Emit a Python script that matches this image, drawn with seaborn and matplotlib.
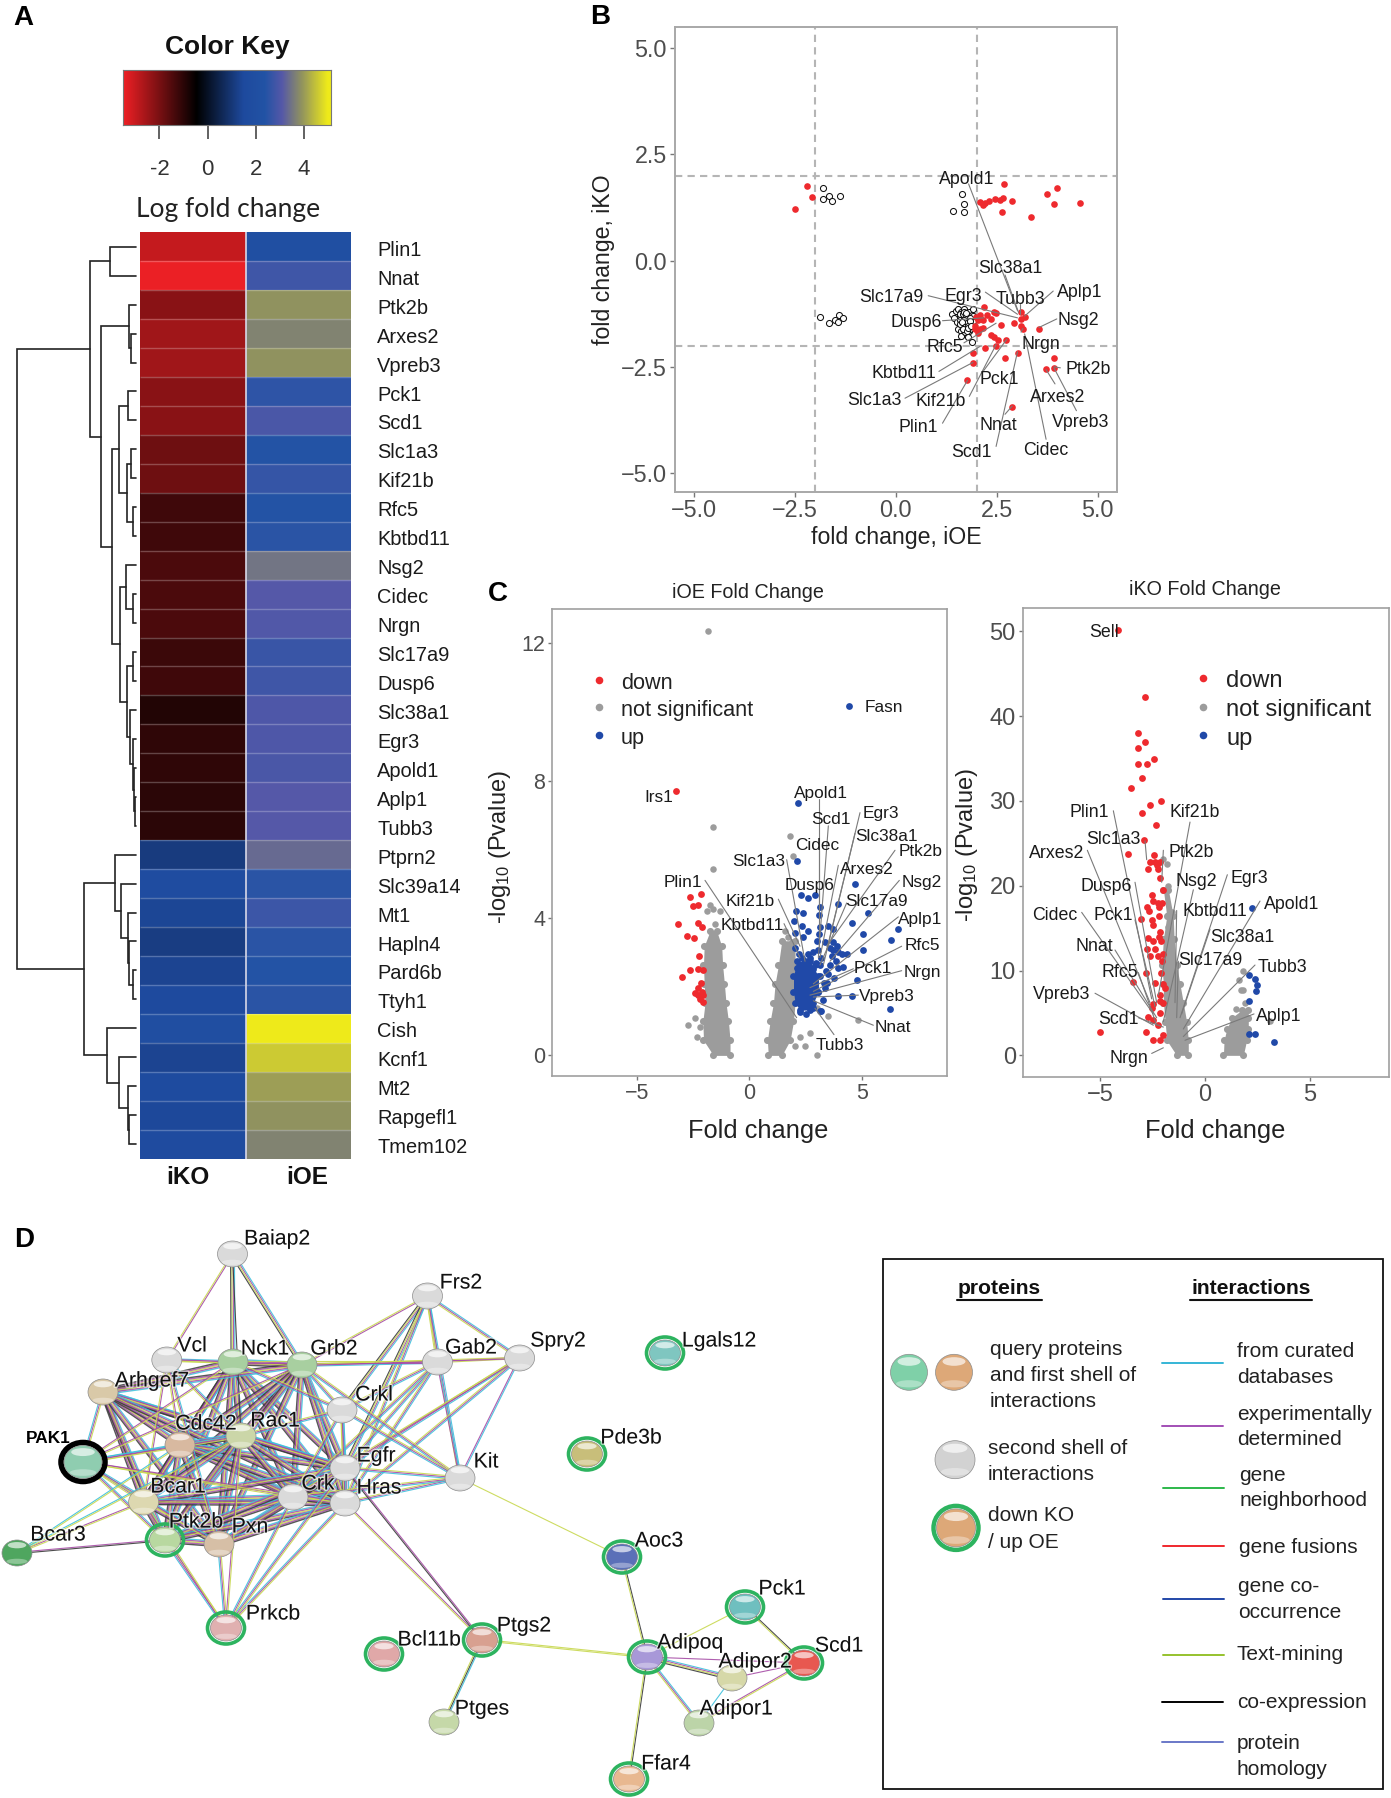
"""
Four panel figure: heatmap with dendrogram, fold change scatter,
two volcano plots and the protein interaction network
"""

import itertools
import numpy as np
import matplotlib
matplotlib.use("Agg")
import matplotlib.pyplot as plt
import seaborn as sns
from matplotlib.colors import LinearSegmentedColormap, Normalize
from matplotlib.patches import Ellipse, Rectangle
import matplotlib.patheffects as pe

W, H = 1391, 1798

sns.set_theme(style="white")
plt.rcParams['font.family'] = ["Liberation Sans", "DejaVu Sans"]
plt.rcParams['mathtext.default'] = "regular"

# %% panel A values
genes = ["Plin1", "Nnat", "Ptk2b", "Arxes2", "Vpreb3", "Pck1", "Scd1", "Slc1a3", "Kif21b", "Rfc5", "Kbtbd11",
         "Nsg2", "Cidec", "Nrgn", "Slc17a9", "Dusp6", "Slc38a1", "Egr3", "Apold1", "Aplp1", "Tubb3", "Ptprn2",
         "Slc39a14", "Mt1", "Hapln4", "Pard6b", "Ttyh1", "Cish", "Kcnf1", "Mt2", "Rapgefl1", "Tmem102"]
heatKO = [-2.95, -3.45, -2.2, -2.5, -2.5, -2.2, -2.2, -1.85, -1.85, -1.25, -1.25,
          -1.4, -1.4, -1.4, -1.2, -1.25, -0.88, -1.05, -1.05, -1.0, -1.0, 1.1,
          1.75, 1.4, 1.15, 1.35, 1.5, 1.9, 1.35, 1.6, 1.45, 1.65]
heatOE = [2.0, 2.8, 3.9, 3.7, 3.9, 2.55, 2.95, 2.4, 2.65, 2.4, 2.5,
          3.5, 3.1, 3.05, 2.7, 2.8, 3.0, 3.0, 2.95, 3.1, 3.1, 3.35,
          2.5, 2.75, 2.5, 2.4, 2.5, 5.0, 4.6, 4.05, 3.9, 3.7]
keyTicks = [-2, 0, 2, 4]
keyStops = [-3.5, -0.45, 1.5, 2.4, 3.1, 3.9, 5.0, 5.125]
keyColours = ["#EE2025", "#000000", "#1E4A9E", "#2253A5", "#5558A8", "#8F9160", "#EEEA1A", "#EEEA1A"]

# dendrogram as nested [x of the merge, child, child], ints are heatmap rows
geneTree = [17,
            [90, [110, 0, 1],
             [101, [129, 2, [131, 3, 4]],
              [112, [119, [128, 5, 6], [127, [131, 7, 8], [133, 9, 10]]],
               [120, [126, 11, [133, 12, 13]],
                [127, [133, 14, 15], [130, 16, [133, 17, [134, 18, [134.5, 19, 20]]]]]]]]],
            [84, [115, 21, [121, 22, [128, 23, [129, 24, [133, 25, 26]]]]],
             [107, 27, [119, 28, [128, 29, [129, 30, 31]]]]]]

# %% panel B values
redX = [-2.48, -2.20, -2.07, 2.67, 2.08, 2.17, 2.21, 2.32, 2.45, 2.59, 2.65, 2.64, 2.88, 3.35, 3.74, 3.98, 3.91, 4.55,
        2.19, 2.08, 1.99, 2.12, 2.26, 2.43, 2.48, 2.35, 1.95, 2.04, 2.17, 2.61, 2.92, 3.10, 3.19, 3.10, 3.14, 3.10,
        3.54, 1.95, 2.08, 2.17, 2.04, 2.35, 2.43, 2.74, 2.52, 2.48, 2.21, 1.90, 1.90, 2.70, 3.03, 3.91, 3.72, 3.91,
        1.77, 2.88]
redY = [1.22, 1.76, 1.49, 1.81, 1.38, 1.30, 1.36, 1.40, 1.45, 1.42, 1.47, 1.15, 1.40, 1.03, 1.56, 1.70, 1.34, 1.36,
        -1.10, -1.29, -1.33, -1.37, -1.29, -1.20, -1.24, -1.37, -1.54, -1.41, -1.41, -1.52, -1.48, -1.20, -1.33, -1.37,
        -1.61, -1.54, -1.60, -1.62, -1.62, -1.58, -1.71, -1.75, -1.79, -1.86, -1.87, -2.00, -2.06, -2.17, -2.40, -2.29,
        -2.17, -2.29, -2.55, -2.52, -2.82, -3.45]
openX = [-1.81, -1.66, -1.81, -1.57, -1.37, 1.64, 1.68, 1.42, 1.68, -1.88, -1.64, -1.49, -1.40, -1.30, -1.42,
         1.40, 1.45, 1.48, 1.52, 1.55, 1.58, 1.60, 1.62, 1.65, 1.68, 1.70, 1.72, 1.75, 1.78, 1.80, 1.82, 1.85, 1.88,
         1.90, 1.92, 1.55, 1.62, 1.70, 1.75, 1.82, 1.60, 1.68, 1.78, 1.85, 1.90, 1.62, 1.72, 1.80, 1.58, 1.88,
         1.66, 1.74, 1.83, 1.70, 1.77, 1.64, 1.72, 1.80, 1.67, 1.76, 1.84, 1.69, 1.79, 1.73, 1.87]
openY = [1.70, 1.53, 1.46, 1.39, 1.53, 1.57, 1.34, 1.17, 1.15, -1.33, -1.47, -1.39, -1.27, -1.34, -1.45,
         -1.25, -1.35, -1.18, -1.45, -1.15, -1.30, -1.40, -1.22, -1.55, -1.30, -1.15, -1.45, -1.28, -1.60, -1.38,
         -1.20, -1.50, -1.28, -1.42, -1.15, -1.62, -1.65, -1.72, -1.55, -1.65, -1.50, -1.38, -1.45, -1.60, -1.30,
         -1.78, -1.68, -1.80, -1.25, -1.92,
         -1.26, -1.33, -1.36, -1.40, -1.48, -1.45, -1.56, -1.53, -1.62, -1.66, -1.42, -1.22, -1.58, -1.24, -1.55]

# %% panel C values, iOE
oeDownX = [-3.26, -2.15, -2.64, -2.52, -2.27, -3.19, -2.27, -2.09, -2.76, -2.46, -2.25, -2.64, -2.27, -2.07, -3.0,
           -2.16, -2.27, -2.12, -2.41, -2.27, -2.07, -2.19, -2.07]
oeDownY = [7.70, 4.71, 4.6, 4.35, 4.38, 3.84, 3.87, 3.75, 3.48, 3.43, 2.9, 2.49, 2.52, 2.49, 2.28,
           2.1, 1.97, 1.86, 1.81, 1.75, 1.75, 1.64, 1.56]
oeUpX = [4.44, 2.18, 2.1, 4.7, 2.3, 2.62, 2.92, 2.06, 2.37, 3.14, 3.11, 3.96, 5.29, 1.99, 2.33, 3.14, 4.55, 3.73, 3.51,
         2.62, 2.03, 2.4, 6.59, 6.30, 5.07, 5.04, 2.99, 3.59, 3.73, 3.88, 3.73, 3.96, 4.1, 4.33, 3.07, 2.84, 2.62, 2.33,
         2.03, 4.18, 3.93, 3.59, 3.14, 4.77, 3.78, 3.36, 3.93, 4.55, 6.25, 3.14, 2.84, 3.51, 3.14, 2.84,
         2.2, 2.45, 2.7, 2.95, 3.2, 3.4, 3.3, 3.05, 2.75, 2.5, 2.25, 3.25, 3.45, 3.65, 3.85, 3.35, 3.1, 2.9, 2.1, 3.2]
oeUpY = [10.19, 7.34, 5.67, 5.0, 4.66, 4.58, 4.66, 4.22, 4.16, 4.33, 4.08, 4.41, 4.14, 3.92, 3.78, 3.75, 3.87, 3.67, 3.78,
         3.62, 3.56, 3.45, 3.69, 3.36, 3.54, 3.07, 3.34, 3.12, 3.07, 3.18, 3.29, 3.01, 2.96, 2.94, 3.07, 3.01, 2.96, 2.85,
         3.12, 2.58, 2.54, 2.63, 2.63, 2.19, 2.25, 1.97, 1.73, 1.72, 1.35, 1.29, 1.37, 2.36, 2.3, 2.52,
         2.95, 2.75, 2.85, 2.7, 2.85, 2.45, 2.1, 1.85, 1.5, 1.2, 1.25, 1.62, 2.12, 2.9, 2.75, 3.3, 3.55, 2.62, 2.55, 1.3]
oeGreyX = [-1.82, -1.63, -1.63, 1.81, 1.96, -1.75, -1.3, -1.9, -1.6, -1.53, -2.71, -2.41, -2.34, -2.19, 4.84, 3.51,
           2.99, 2.7, 2.47, 2.99, 2.03, 2.25, 1.59, 1.88, 1.73]
oeGreyY = [12.36, 6.66, 5.42, 6.4, 5.81, 4.38, 4.22, 4.22, 4.27, 3.84, 0.88, 1.1, 0.55, 0.82, 1.04, 1.15,
           1.37, 0.66, 0.27, 0.0, 0.27, 0.55, 3.62, 3.29, 3.45]
# outline of the solid part of the clouds, -log10 level with left and right x
oeLeftLevel = [3.62, 3.18, 2.63, 2.08, 1.53, 0.99, 0.44, 0.0]
oeLeftFrom = [-1.75, -2.01, -2.04, -2.01, -1.97, -2.07, -2.04, -1.6]
oeLeftTo = [-1.45, -1.23, -1.19, -1.11, -1.04, -0.93, -0.86, -0.86]
oeRightLevel = [3.34, 2.63, 2.08, 1.53, 0.99, 0.44, 0.0]
oeRightFrom = [1.44, 1.29, 1.14, 1.07, 0.92, 0.8, 0.84]
oeRightTo = [2.03, 2.03, 2.03, 2.03, 1.96, 1.81, 1.44]
oeUpLevel = [2.74, 2.30, 1.86, 1.53, 1.32]
oeUpFrom = [2.10, 1.96, 1.96, 2.03, 2.25]
oeUpTo = [2.70, 3.07, 3.07, 2.84, 2.70]

# %% panel C values, iKO
koDownX = [-4.15, -2.89, -3.19, -2.87, -3.19, -2.42, -2.78, -3.22, -3.03, -3.54, -2.12, -2.63, -3.03, -2.34, -2.9, -3.7,
           -2.42, -2.63, -2.39, -2.15, -2.31, -2.71, -2.23, -2.15, -1.99, -2.55, -2.5, -2.79, -2.66, -2.23, -2.07, -2.19,
           -3.08, -2.19, -2.55, -2.5, -2.15, -2.19, -2.74, -2.5, -2.12, -2.79, -2.39, -2.63, -2.23, -1.99, -2.07, -2.82,
           -2.12, -3.46, -2.39, -1.99, -1.91, -2.15, -2.15, -1.99, -2.47, -2.55, -2.15, -2.71, -2.47, -2.23, -2.82, -5.02,
           -2.47, -2.15, -1.99]
koDownY = [50.2, 42.2, 38, 37, 36.2, 34.9, 34.4, 34.3, 32.7, 31.5, 30, 29.5, 28.6, 27.2, 25.4, 23.7,
           23.6, 22.8, 22.8, 22.8, 22.4, 22, 22, 20.9, 19.5, 18.9, 18.2, 17.5, 17, 18, 18, 17.5,
           16.1, 16.4, 16, 15.4, 14.6, 14, 13.8, 13.5, 13.5, 12.5, 12.5, 11.7, 11.7, 11.9, 11.1, 9.76,
           9.67, 8.65, 8.56, 8.43, 7.9, 7.1, 6.43, 6.2, 6, 5.55, 5, 4.57, 4.2, 3.55, 2.8, 2.8,
           1.77, 1.77, 2.44]
koUpX = [2.23, 2.12, 2.39, 2.47, 2.44, 2.12, 2.11, 2.39, 3.32]
koUpY = [17.35, 9.45, 9, 8.34, 7.63, 6.43, 2.57, 2.57, 1.55]
koGreyX = [1.83, 1.71, 1.83, 1.48, 1.91, 1.64, 3.11, -1.83, -1.99, -1.75, -1.91, -1.59, -1.75, -1.8, -1.75, -1.67]
koGreyY = [9.98, 7.76, 7.76, 5.41, 6.21, 8.87, 4.08, 22.6, 23.1, 20, 19.5, 16.9, 16.6, 14, 15.1, 15.75]
koLeftLevel = [19.5, 16.4, 13.75, 10.65, 8.43, 6.21, 3.99, 1.77, 0.0]
koLeftFrom = [-1.99, -1.83, -1.99, -2.07, -1.99, -1.99, -1.91, -1.83, -1.36]
koLeftTo = [-1.75, -1.52, -1.48, -1.36, -1.2, -1.04, -0.88, -0.8, -0.8]
koRightLevel = [5.32, 4.44, 3.1, 1.77, 0.0]
koRightFrom = [1.75, 1.28, 1.04, 0.91, 0.88]
koRightTo = [2.07, 2.07, 2.07, 1.99, 1.83]

# %% panel D values
nodeNames = ["Baiap2", "Frs2", "Vcl", "Nck1", "Grb2", "Gab2", "Spry2", "Arhgef7", "Crkl", "Cdc42", "Rac1", "PAK1",
             "Egfr", "Kit", "Crk", "Hras", "Bcar1", "Ptk2b", "Pxn", "Bcar3", "Prkcb", "Lgals12", "Pde3b", "Aoc3",
             "Ptgs2", "Bcl11b", "Ptges", "Adipoq", "Pck1", "Scd1", "Adipor2", "Adipor1", "Ffar4"]
nodeX = [232.5, 427.5, 166.8, 233, 302, 437.5, 519.6, 103, 342, 180, 241, 83,
         345, 460, 293, 345, 143.6, 165, 219, 17, 226, 665, 587, 622,
         482, 384, 444, 647, 745, 804, 732, 699, 629]
nodeY = [1254, 1296, 1360, 1362, 1365, 1362, 1358, 1392, 1410, 1445, 1436, 1462,
         1468, 1478, 1497, 1503, 1502, 1540, 1544, 1553, 1628, 1353, 1454, 1557,
         1640, 1654, 1722, 1657, 1607, 1663, 1678, 1723, 1779]
nodeColours = ["#DADADA", "#DADADA", "#DADADA", "#A8CFA0", "#A8CFA0", "#DADADA", "#DADADA", "#D9C9A8", "#DADADA",
               "#D8B9A0", "#CBD6A8", "#8FCDB0", "#DADADA", "#DADADA", "#DADADA", "#DADADA", "#DDD8B0", "#B8D8A0",
               "#D6BFA6", "#4FA65F", "#E0B0B0", "#7FC6C0", "#C8BE7A", "#5B70B8", "#D8A090", "#E0A8A8", "#C5D8A8",
               "#A898D8", "#6FBFBF", "#E85850", "#D6D8A8", "#BCD4A8", "#E8B890"]
ringedNodes = ["Ptk2b", "Prkcb", "Lgals12", "Pde3b", "Aoc3", "Ptgs2", "Bcl11b", "Adipoq", "Pck1", "Scd1", "Ffar4"]
labelX = [277, 461, 192, 265, 334, 471, 558, 152, 374, 206, 275, 48,
          376, 486, 318, 379, 178, 196, 250, 58, 273, 719, 631, 659,
          524, 429, 482, 690, 782, 839, 755, 736, 666]
labelY = [1237, 1281, 1344, 1347, 1347, 1346, 1339, 1379, 1393, 1422, 1419, 1436,
          1454, 1460, 1482, 1486, 1485, 1520, 1525, 1533, 1612, 1339, 1436, 1539,
          1624, 1638, 1707, 1641, 1587, 1644, 1660, 1707, 1762]
coreNodes = ["Nck1", "Grb2", "Arhgef7", "Cdc42", "Rac1", "Bcar1", "Ptk2b", "Pxn", "Crk", "Egfr", "Hras"]
extraEdges = ["Baiap2 Nck1 cmyk", "Baiap2 Grb2 cmyk", "Baiap2 Vcl my", "Baiap2 Rac1 k",
              "Vcl Nck1 cmy", "Vcl Grb2 my", "Vcl Rac1 cmy", "Vcl Cdc42 my", "Vcl Bcar1 my", "Vcl Pxn cmy",
              "Frs2 Grb2 my", "Frs2 Gab2 cmy", "Frs2 Spry2 cmy", "Frs2 Crkl cmyk", "Frs2 Egfr cmyk",
              "Frs2 Hras cmy", "Frs2 Kit cmy",
              "Gab2 Spry2 my", "Gab2 Grb2 cmy", "Gab2 Nck1 my", "Gab2 Kit cm", "Gab2 Egfr cmy", "Gab2 Hras cmy",
              "Gab2 Crk cmy", "Gab2 Crkl cmy", "Spry2 Grb2 my", "Spry2 Kit cm", "Spry2 Egfr cmy", "Spry2 Hras cmy",
              "Spry2 Crk my", "Kit Egfr cmy", "Kit Hras cmy", "Kit Crk cmy", "Kit Grb2 cmy", "Kit Crkl cmy",
              "Crkl Nck1 cmy", "Crkl Grb2 cmy", "Crkl Egfr cmy", "Crkl Hras cmy", "Crkl Crk cmy", "Crkl Rac1 cmy",
              "PAK1 Arhgef7 cmy", "PAK1 Cdc42 cmy", "PAK1 Rac1 cmy", "PAK1 Bcar1 cmy", "PAK1 Ptk2b cmy",
              "PAK1 Pxn cmy", "PAK1 Nck1 my", "PAK1 Grb2 my", "PAK1 Crk my", "PAK1 Hras my",
              "Bcar3 Ptk2b mk", "Bcar3 Bcar1 my", "Bcar3 Cdc42 cy", "Bcar3 Rac1 cy",
              "Prkcb Ptk2b cmy", "Prkcb Pxn cmy", "Prkcb Bcar1 my", "Prkcb Hras cmy", "Prkcb Egfr cmy",
              "Prkcb Crk cmy", "Prkcb Rac1 my", "Hras Ptgs2 my", "Egfr Ptgs2 mk", "Kit Aoc3 y",
              "Ptgs2 Adipoq yy", "Ptgs2 Ptges cky", "Aoc3 Adipoq ky", "Adipoq Pck1 y", "Adipoq Adipor2 cmyk",
              "Adipoq Adipor1 cmy", "Adipoq Ffar4 ky", "Adipor2 Adipor1 c", "Adipor2 Scd1 m", "Adipor1 Scd1 my",
              "Pck1 Scd1 ky", "Adipoq Scd1 m"]
edgeColours = {"c": "#3CC0DC", "m": "#A64CA6", "y": "#C8D850", "k": "#3A3A3A"}

proteinLegendText = ["query proteins", "and first shell of", "interactions", "second shell of", "interactions",
                     "down KO", "/ up OE"]
interactionNames = ["from curated", "databases", "experimentally", "determined", "gene", "neighborhood", "gene fusions",
                    "gene co-", "occurrence", "Text-mining", "co-expression", "protein", "homology"]
interactionColours = ["#35B5D6", "#A24FB5", "#2DB84B", "#F0282D", "#2347A8", "#96C22D", "#000000", "#6A78C8"]

# %% label tables in coordinates of the crops they were read from
# name, centre x, centre y, then the leader line start and end
bLabels = [("Apold1", 1083, 497, 1088, 515, 1225, 870), ("Slc38a1", 1204, 746, 1190, 770, 1228, 875),
           ("Slc17a9", 873, 828, 975, 828, 1225, 890), ("Egr3", 1072, 825, 1135, 818, 1225, 880),
           ("Tubb3", 1233, 833, 1233, 852, 1233, 880), ("Aplp1", 1398, 812, 1325, 815, 1245, 885),
           ("Nsg2", 1395, 893, 1335, 893, 1285, 917), ("Dusp6", 940, 898, 1015, 898, 1130, 890),
           ("Rfc5", 1022, 968, 1075, 960, 1165, 905), ("Nrgn", 1290, 960, 1235, 930, 1240, 920),
           ("Ptk2b", 1422, 1030, 1345, 1030, 1327, 1027), ("Kbtbd11", 908, 1040, 1005, 1040, 1120, 970),
           ("Pck1", 1175, 1057, 1125, 1045, 1195, 950), ("Arxes2", 1337, 1107, 1330, 1075, 1305, 1035),
           ("Slc1a3", 824, 1117, 910, 1115, 1100, 1015), ("Kif21b", 1010, 1118, 1090, 1110, 1165, 965),
           ("Vpreb3", 1402, 1178, 1390, 1150, 1327, 1030), ("Plin1", 946, 1190, 1015, 1185, 1085, 1065),
           ("Nnat", 1170, 1185, 1190, 1160, 1210, 1137), ("Scd1", 1097, 1262, 1165, 1250, 1225, 985),
           ("Cidec", 1305, 1257, 1305, 1230, 1245, 935)]
oeLabels = [("Fasn", 1212, 360), ("Irs1", 537, 600),
            ("Apold1", 1022, 590, 1018, 610, 1018, 1000), ("Scd1", 1052, 658, 1045, 680, 1015, 1030),
            ("Egr3", 1203, 643, 1140, 645, 1030, 1050), ("Slc38a1", 1218, 702, 1125, 700, 1040, 1010),
            ("Cidec", 1012, 727, 1018, 745, 1018, 900), ("Ptk2b", 1322, 742, 1245, 745, 1040, 1000),
            ("Slc1a3", 835, 770, 920, 770, 975, 1040), ("Arxes2", 1160, 790, 1075, 785, 1020, 1030),
            ("Plin1", 610, 826, 675, 825, 950, 1190), ("Nsg2", 1325, 826, 1258, 825, 1050, 1040),
            ("Dusp6", 990, 833), ("Kif21b", 812, 875, 895, 875, 960, 1000),
            ("Slc17a9", 1190, 875, 1100, 885, 1020, 1050), ("Kbtbd11", 818, 940, 912, 940, 960, 1030),
            ("Aplp1", 1320, 923, 1255, 922, 1000, 1100), ("Rfc5", 1327, 992, 1265, 1000, 1000, 1120),
            ("Pck1", 1178, 1053, 1120, 1060, 990, 1110), ("Nrgn", 1328, 1065, 1265, 1065, 990, 1130),
            ("Vpreb3", 1220, 1128, 1135, 1130, 1000, 1135), ("Nnat", 1238, 1212, 1180, 1210, 1000, 1145),
            ("Tubb3", 1080, 1258, 1062, 1235, 1005, 1165)]
koLabels = [("Sell", 463, 160), ("Plin1", 418, 640, 490, 640, 605, 1140), ("Kif21b", 733, 640, 720, 670, 625, 1130),
            ("Slc1a3", 490, 710, 585, 720, 590, 770), ("Arxes2", 320, 747, 412, 745, 600, 1150),
            ("Ptk2b", 725, 746, 640, 745, 635, 830), ("Dusp6", 468, 835, 555, 830, 620, 1150),
            ("Nsg2", 738, 823, 730, 850, 640, 1200), ("Egr3", 898, 815, 832, 810, 690, 1190),
            ("Apold1", 1025, 883, 930, 880, 700, 1220), ("Kbtbd11", 795, 903, 680, 905, 675, 1150),
            ("Cidec", 315, 912, 395, 910, 610, 1180), ("Pck1", 490, 912, 555, 930, 615, 1160),
            ("Slc38a1", 877, 972, 780, 955, 695, 1180), ("Nnat", 432, 996, 495, 1010, 620, 1190),
            ("Slc17a9", 780, 1033, 685, 1040, 680, 1190), ("Tubb3", 998, 1050, 915, 1050, 700, 1240),
            ("Rfc5", 510, 1065, 565, 1070, 620, 1210), ("Vpreb3", 336, 1122, 435, 1125, 610, 1210),
            ("Scd1", 505, 1190, 565, 1190, 640, 1215), ("Aplp1", 987, 1182, 912, 1180, 705, 1250),
            ("Nrgn", 537, 1292, 605, 1285, 640, 1270)]

RED, GREY, BLUE = "#EE2A2E", "#9C9C9C", "#2049A8"

fig = plt.figure(figsize=((W + 0.01) / 100, (H + 0.01) / 100), dpi=100)


def pixelAxes(left, top, right, bottom):
    return fig.add_axes([left / W, 1 - bottom / H, (right - left) / W, (bottom - top) / H])


# overlay in figure pixels for labels, leaders, dendrogram and network
ov = fig.add_axes([0, 0, 1, 1], zorder=5)
ov.set_xlim(0, W)
ov.set_ylim(H, 0)
ov.axis("off")
ov.patch.set_alpha(0)

for letter, lx, ly in [("A", 23, 16), ("B", 600, 15), ("C", 498, 592), ("D", 24, 1238)]:
    ov.text(lx, ly, letter, fontsize=20, fontweight="bold", ha="center", va="center", color="black")


# %% panel A
def drawHeatmap():
    top, bottom = 232.3, 1158.6
    cmap = LinearSegmentedColormap.from_list(
        "key", [((s - keyStops[0]) / (keyStops[-1] - keyStops[0]), c) for s, c in zip(keyStops, keyColours)], N=512)
    norm = Normalize(keyStops[0], keyStops[-1])

    # colour key
    keyAx = pixelAxes(123.3, 70, 331, 125.5)
    keyAx.imshow(np.linspace(keyStops[0], keyStops[-1], 400)[None, :], cmap=cmap, norm=norm, aspect="auto",
                 extent=(keyStops[0], keyStops[-1], 0, 1))
    keyAx.set_yticks([])
    keyAx.set_xticks(keyTicks)
    keyAx.set_xticklabels([str(t) for t in keyTicks], fontsize=16, color="#333333")
    keyAx.tick_params(axis="x", length=10, width=1.3, color="#555555", pad=14, bottom=True)
    for s in keyAx.spines.values():
        s.set_color("#777777")
        s.set_linewidth(0.8)
    ov.text(227, 45, "Color Key", fontsize=19, fontweight="bold", ha="center", va="center", color="#111111")
    ov.text(228, 207, "Log fold change", fontsize=19, family="Lato", ha="center", va="center", color="#222222")

    # heatmap cells
    hmAx = pixelAxes(140, top, 351, bottom)
    sns.heatmap(np.column_stack([heatKO, heatOE]), ax=hmAx, cmap=cmap, norm=norm, cbar=False,
                xticklabels=False, yticklabels=False)
    hmAx.hlines(range(1, len(genes)), 0, 2, color="white", alpha=0.25, lw=1)
    hmAx.vlines(1, 0, len(genes), color="#D8D8E8", lw=1.2)

    rowH = (bottom - top) / len(genes)
    rowY = [top + rowH * (i + 0.5) for i in range(len(genes))]
    for name, y in zip(genes, rowY):
        ov.text(377, y + 1.5, name, fontsize=14.4, ha="left", va="center", color="#1a1a1a")
    ov.text(188, 1175, "iKO", fontsize=17.5, fontweight="bold", ha="center", va="center", color="#111111")
    ov.text(307, 1175, "iOE", fontsize=17.5, fontweight="bold", ha="center", va="center", color="#111111")

    # dendrogram, walk the nested merges
    def walk(node):
        if not isinstance(node, list):
            return 136, rowY[node]
        x, a, b = node
        xa, ya = walk(a)
        xb, yb = walk(b)
        ov.plot([xa, x, x, xb], [ya, ya, yb, yb], color="#222222", lw=1.2, solid_joinstyle="miter")
        return x, (ya + yb) / 2

    walk(geneTree)


drawHeatmap()


def leaders(labels, x0, y0, fx, fy, size):
    for row in labels:
        name, cx, cy = row[:3]
        if len(row) > 3:
            ov.plot([x0 + row[3] / fx, x0 + row[5] / fx], [y0 + row[4] / fy, y0 + row[6] / fy],
                    color="#7a7a7a", lw=0.8, zorder=3)
        ov.text(x0 + cx / fx, y0 + cy / fy, name, fontsize=size, ha="center", va="center", color="#1a1a1a", zorder=4)


def greySpines(ax, colour="#A8A8A8", width=1.4):
    for s in ax.spines.values():
        s.set_visible(True)
        s.set_color(colour)
        s.set_linewidth(width)


# %% panel B
bAx = pixelAxes(674.6, 26.8, 1116.8, 491.8)
bAx.axvline(-2, color="#B5B5B5", lw=1.5, ls=(0, (3.5, 2.5)))
bAx.axvline(2, color="#B5B5B5", lw=1.5, ls=(0, (3.5, 2.5)))
bAx.axhline(2, color="#B5B5B5", lw=1.5, ls=(0, (3.5, 2.5)))
bAx.axhline(-2, color="#B5B5B5", lw=1.5, ls=(0, (3.5, 2.5)))
sns.scatterplot(x=openX, y=openY, ax=bAx, s=19, facecolor="white", edgecolor="#111111", linewidth=0.75, zorder=3)
sns.scatterplot(x=redX, y=redY, ax=bAx, s=23, color=RED, linewidth=0, zorder=4)
bAx.set_xlim(-5.47, 5.47)
bAx.set_ylim(-5.44, 5.50)
bAx.set_xticks([-5, -2.5, 0, 2.5, 5])
bAx.set_yticks([-5, -2.5, 0, 2.5, 5])
bAx.set_xticklabels(["\u22125.0", "\u22122.5", "0.0", "2.5", "5.0"])
bAx.set_yticklabels(["\u22125.0", "\u22122.5", "0.0", "2.5", "5.0"])
bAx.tick_params(length=3.5, width=1, color="#777777", labelsize=16.8, labelcolor="#4d4d4d", pad=2, left=True, bottom=True)
greySpines(bAx)
ov.text(896, 535, "fold change, iOE", fontsize=16.7, ha="center", va="center", color="#222222")
ov.text(603, 258, "fold change, iKO", fontsize=16.7, rotation=90, ha="center", va="center", color="#222222")
leaders(bLabels, 580, 0, 2.8, 2.8, 12.8)


# %% panel C
def drawVolcano(box, bands, grey, down, up, xlim, ylim, yticks, tickSize, title, xlabel, ylabel, legend):
    ax = pixelAxes(*box)
    for level, fromX, toX in bands:
        ax.fill_betweenx(level, fromX, toX, color=GREY, lw=0, zorder=2)
        sns.scatterplot(x=fromX, y=level, ax=ax, s=26, color=GREY, linewidth=0, zorder=2)
        sns.scatterplot(x=toX, y=level, ax=ax, s=26, color=GREY, linewidth=0, zorder=2)
    sns.scatterplot(x=grey[0], y=grey[1], ax=ax, s=22, color=GREY, linewidth=0, zorder=2)
    sns.scatterplot(x=down[0], y=down[1], ax=ax, s=24, color=RED, linewidth=0, zorder=3)
    sns.scatterplot(x=up[0], y=up[1], ax=ax, s=24, color=BLUE, linewidth=0, zorder=3)
    ax.set_xlim(*xlim)
    ax.set_ylim(*ylim)
    ax.set_xticks([-5, 0, 5])
    ax.set_xticklabels(["\u22125", "0", "5"])
    ax.set_yticks(yticks)
    ax.tick_params(length=3, width=1, color="#777777", labelsize=tickSize, labelcolor="#4d4d4d", pad=2,
                   left=True, bottom=True)
    greySpines(ax, "#A0A0A0", 1.2)
    ov.text(title[1], title[2], title[0], fontsize=14.2, ha="center", va="center", color="#222222")
    ov.text(xlabel[0], xlabel[1], "Fold change", fontsize=18.3, ha="center", va="center", color="#222222")
    ov.text(ylabel[0], ylabel[1], "-log$_{10}$ (Pvalue)", fontsize=17, rotation=90, ha="center", va="center",
            color="#222222")
    dotX, textX, ys, legendSize = legend
    for name, colour, y in zip(["down", "not significant", "up"], [RED, GREY, BLUE], ys):
        ov.scatter([dotX], [y], s=30, color=colour, linewidth=0)
        ov.text(textX, y + 1, name, fontsize=legendSize, ha="left", va="center", color="#222222")


drawVolcano((552.3, 609.5, 946.7, 1076),
            [(oeLeftLevel, oeLeftFrom, oeLeftTo), (oeRightLevel, oeRightFrom, oeRightTo)],
            (oeGreyX, oeGreyY), (oeDownX, oeDownY), (oeUpX, oeUpY),
            (-8.76, 8.77), (-0.60, 12.99), [0, 4, 8, 12], 15.5,
            ("iOE Fold Change", 748, 590), (758, 1128.7), (500, 844.6), (599, 621, [680, 707, 735], 15.6))
# solid blue block of the iOE up genes sits on top of the grey
oeAx = fig.axes[-1]
oeAx.fill_betweenx(oeUpLevel, oeUpFrom, oeUpTo, color=BLUE, lw=0, zorder=3)
sns.scatterplot(x=oeUpFrom, y=oeUpLevel, ax=oeAx, s=24, color=BLUE, linewidth=0, zorder=3)
sns.scatterplot(x=oeUpTo, y=oeUpLevel, ax=oeAx, s=24, color=BLUE, linewidth=0, zorder=3)
leaders(oeLabels, 480, 570, 3, 2.658, 12.4)

drawVolcano((1022.7, 607.6, 1389, 1076.8),
            [(koLeftLevel, koLeftFrom, koLeftTo), (koRightLevel, koRightFrom, koRightTo)],
            (koGreyX, koGreyY), (koDownX, koDownY), (koUpX, koUpY),
            (-8.72, 8.80), (-2.53, 52.8), [0, 10, 20, 30, 40, 50], 17,
            ("iKO Fold Change", 1205, 587.7), (1215, 1129.4), (966.7, 842.8), (1202.7, 1226, [678, 706.6, 735.5], 17))
leaders(koLabels, 950, 570, 3, 2.658, 12.8)


# %% panel D
def glossyNode(x, y, w, h, colour, ring=None, ringWidth=2.6):
    if ring is not None:
        ov.add_patch(Ellipse((x, y), w + 6, h + 6, facecolor="none", edgecolor=ring, lw=ringWidth, zorder=4))
    ov.add_patch(Ellipse((x, y), w, h, facecolor=colour, edgecolor="#8c8c8c", lw=0.5, zorder=4))
    ov.add_patch(Ellipse((x, y - h * 0.30), w * 0.62, h * 0.24, facecolor="white", edgecolor="none", alpha=0.65, zorder=4))
    ov.add_patch(Ellipse((x, y + h * 0.32), w * 0.70, h * 0.20, facecolor="white", edgecolor="none", alpha=0.35, zorder=4))


nodePos = {n: (x, y) for n, x, y in zip(nodeNames, nodeX, nodeY)}


def drawEdge(a, b, channels, alpha=0.9, width=0.8):
    (xa, ya), (xb, yb) = nodePos[a], nodePos[b]
    length = np.hypot(xb - xa, yb - ya)
    nx, ny = -(yb - ya) / length, (xb - xa) / length
    for i, code in enumerate(channels):
        off = (i - (len(channels) - 1) / 2) * 1.3
        ov.plot([xa + nx * off, xb + nx * off], [ya + ny * off, yb + ny * off],
                color=edgeColours[code], lw=width, alpha=alpha, zorder=2)


for a, b in itertools.combinations(coreNodes, 2):
    drawEdge(a, b, "cmymk", alpha=0.85, width=1.0)
for edge in extraEdges:
    a, b, channels = edge.split()
    drawEdge(a, b, channels)

for name, x, y, colour in zip(nodeNames, nodeX, nodeY, nodeColours):
    if name == "PAK1":
        glossyNode(x, y, 38, 33, colour, ring="black", ringWidth=4)
    elif name in ringedNodes:
        glossyNode(x, y, 31, 26, colour, ring="#2DB35F")
    else:
        glossyNode(x, y, 30, 26, colour)

halo = [pe.withStroke(linewidth=2, foreground="white", alpha=0.6)]
for name, x, y in zip(nodeNames, labelX, labelY):
    if name == "PAK1":
        ov.text(x, y, name, fontsize=12.4, fontweight="bold", ha="center", va="center", color="black", zorder=6)
    else:
        ov.text(x, y, name, fontsize=15.3, ha="center", va="center", color="#111111", zorder=6, path_effects=halo)

# legend box
ov.add_patch(Rectangle((882.7, 1259.4), 500, 529.9, facecolor="white", edgecolor="#111111", lw=1.3, zorder=1))
for text, cx, x0, x1 in [("proteins", 999.3, 957.3, 1041.7), ("interactions", 1250.7, 1190, 1311.7)]:
    ov.text(cx, 1286.7, text, fontsize=15.2, fontweight="bold", ha="center", va="center", color="#111111")
    ov.plot([x0, x1], [1300, 1300], color="#111111", lw=1.5)

glossyNode(909, 1372.3, 37, 36, "#7FD0A8")
glossyNode(954, 1372.3, 37, 36, "#DDA878")
glossyNode(955, 1459.7, 40, 38, "#D2D2D2")
glossyNode(956, 1527.9, 39, 38, "#DDA878", ring="#2DB35F", ringWidth=3.2)

for text, x, y in zip(proteinLegendText, [990, 990, 990, 988, 988, 988, 988],
                      [1347.9, 1373, 1399.2, 1446.4, 1472, 1513.9, 1540]):
    ov.text(x, y, text, fontsize=15, ha="left", va="center", color="#222222")
for text, x, y in zip(interactionNames,
                      [1236.7, 1236.7, 1236.7, 1236.7, 1239.3, 1239.3, 1239.3, 1237.7, 1237.7, 1236.7, 1236.7, 1236.7, 1236.7],
                      [1349.6, 1375, 1412.5, 1437.7, 1473.7, 1498.9, 1545.4, 1584.5, 1610, 1652.7, 1700.2, 1741.8, 1767.3]):
    ov.text(x, y, text, fontsize=15, ha="left", va="center", color="#222222")
for colour, x0, x1, y in zip(interactionColours,
                             [1161.7, 1161.7, 1163.3, 1163.3, 1163.3, 1163.3, 1161.7, 1161.7],
                             [1222.7, 1222.7, 1224.3, 1224.3, 1224.3, 1224.3, 1222.7, 1222.7],
                             [1362.9, 1426.5, 1487.7, 1546.4, 1599.5, 1654.8, 1702, 1741.8]):
    ov.plot([x0, x1], [y, y], color=colour, lw=1.4)

# text box centre sits a little above the visual centre of the letters
for t in ov.texts:
    tx, ty = t.get_position()
    t.set_position((tx, ty + 2))

fig.savefig("out.png", dpi=100)
